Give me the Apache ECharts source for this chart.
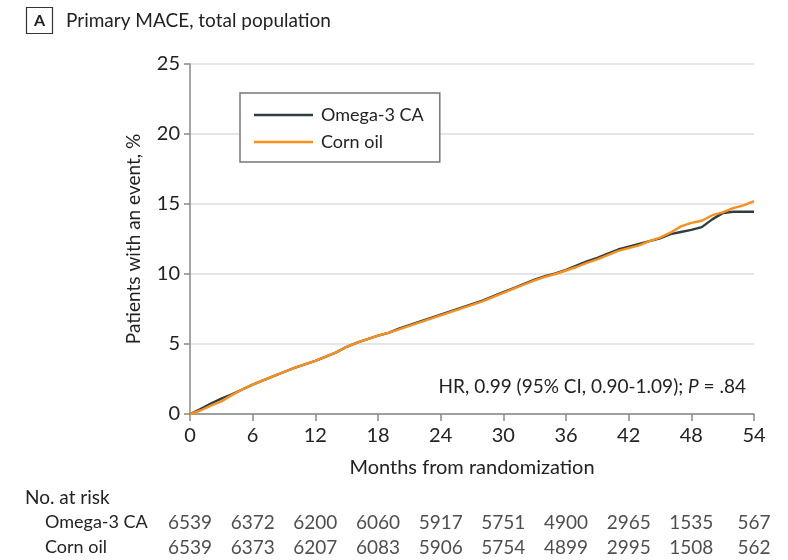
<!DOCTYPE html>
<html>
<head>
<meta charset="utf-8">
<script src="https://cdn.jsdelivr.net/npm/echarts@6/dist/echarts.min.js"></script>
<style>html,body{margin:0;padding:0;background:#fff}#c{width:788px;height:560px}</style>
</head>
<body>
<div id="c"></div>
<script>
var months = [0,1,2,3,4,5,6,7,8,9,10,11,12,13,14,15,16,17,18,19,20,21,22,23,24,25,26,27,28,29,30,31,32,33,34,35,36,37,38,39,40,41,42,43,44,45,46,47,48,49,50,51,52,53,54];
var omega3 = [0,0.35,0.75,1.1,1.4,1.75,2.1,2.4,2.7,3.0,3.3,3.55,3.8,4.1,4.4,4.8,5.1,5.35,5.6,5.8,6.1,6.35,6.6,6.85,7.1,7.35,7.6,7.85,8.1,8.4,8.7,9.0,9.3,9.6,9.85,10.05,10.3,10.6,10.9,11.15,11.45,11.75,11.95,12.15,12.35,12.55,12.85,13.0,13.15,13.35,13.9,14.35,14.45,14.45,14.45];
var cornOil = [0,0.25,0.6,0.9,1.35,1.75,2.1,2.4,2.7,3.0,3.3,3.55,3.8,4.1,4.4,4.8,5.1,5.35,5.6,5.8,6.05,6.3,6.55,6.8,7.05,7.3,7.55,7.8,8.05,8.35,8.65,8.95,9.25,9.55,9.8,10.0,10.25,10.5,10.8,11.05,11.35,11.65,11.85,12.05,12.35,12.6,12.95,13.4,13.65,13.8,14.2,14.4,14.7,14.9,15.2];
var riskMonths = [0,6,12,18,24,30,36,42,48,54];
var riskOmega3 = [6539,6372,6200,6060,5917,5751,4900,2965,1535,567];
var riskCornOil = [6539,6373,6207,6083,5906,5754,4899,2995,1508,562];
var groups = ['Omega-3 CA','Corn oil'];

var FONT = 'Lato';
function pairs(xs, ys){ return xs.map(function(x,i){ return [x, ys[i]]; }); }
function riskData(vals, g){ return riskMonths.map(function(m,i){ return [m, g, vals[i]]; }); }

var chart = echarts.init(document.getElementById('c'), null, {renderer:'canvas'});
chart.setOption({
  animation: false,
  backgroundColor: '#fff',
  textStyle: {fontFamily: FONT, color: '#222'},
  graphic: [
    {type:'rect', shape:{x:26.5,y:7.5,width:26,height:26}, style:{fill:'#fff', stroke:'#333', lineWidth:1.2}},
    {type:'text', x:39.5, y:21, style:{text:'A', font:'bold 16px '+FONT, fill:'#222', align:'center', verticalAlign:'middle'}},
    {type:'text', x:66, y:21, style:{text:'Primary MACE, total population', font:'19px '+FONT, fill:'#222', verticalAlign:'middle'}},
    {type:'text', x:25, y:498, style:{text:'No. at risk', font:'19px '+FONT, fill:'#222', verticalAlign:'middle'}},
    {type:'text', x:746, y:387, style:{
      text:'{n|HR, 0.99 (95% CI, 0.90-1.09); }{i|P}{n| = .84}',
      align:'right', verticalAlign:'middle',
      rich:{n:{font:'19px '+FONT, fill:'#222'}, i:{font:'italic 19px '+FONT, fill:'#222'}}
    }}
  ],
  legend: {
    data: groups.map(function(g){ return {name:g, icon:'rect'}; }),
    orient: 'vertical',
    left: 240, top: 93,
    padding: [12, 16, 10, 14],
    itemWidth: 59, itemHeight: 2.5, itemGap: 7,
    borderColor: '#777', borderWidth: 1.5,
    backgroundColor: '#fff',
    textStyle: {fontFamily: FONT, fontSize: 18, lineHeight: 20, color: '#222', padding:[0,0,0,3]},
    z: 10
  },
  grid: [
    {left:190, right:34, top:64, bottom:146},
    {left:190, right:34, top:510, height:50}
  ],
  xAxis: [
    {type:'value', gridIndex:0, min:0, max:54, interval:6,
     name:'Months from randomization', nameLocation:'middle', nameGap:44,
     nameTextStyle:{fontFamily:FONT, fontSize:20, color:'#222'},
     axisLine:{show:true, lineStyle:{color:'#888', width:1.5}},
     axisTick:{show:true, length:7, lineStyle:{color:'#888', width:1.5}},
     axisLabel:{fontFamily:FONT, fontSize:20, color:'#222', margin:12},
     splitLine:{show:false}},
    {type:'value', gridIndex:1, min:0, max:54, interval:6, show:false}
  ],
  yAxis: [
    {type:'value', gridIndex:0, min:0, max:25, interval:5,
     name:'Patients with an event, %', nameLocation:'middle', nameGap:47,
     nameTextStyle:{fontFamily:FONT, fontSize:19, color:'#222'},
     axisLine:{show:true, lineStyle:{color:'#888', width:1.5}},
     axisTick:{show:true, length:6, lineStyle:{color:'#888', width:1.5}},
     axisLabel:{fontFamily:FONT, fontSize:20, color:'#222', margin:10},
     splitLine:{show:true, lineStyle:{color:'#ddd', width:1.5}}},
    {type:'category', gridIndex:1, data:groups, inverse:true,
     axisLine:{show:false}, axisTick:{show:false}, splitLine:{show:false},
     axisLabel:{fontFamily:FONT, fontSize:18, color:'#222', align:'left', margin:145}}
  ],
  series: [
    {name:'Omega-3 CA', type:'line', xAxisIndex:0, yAxisIndex:0, data:pairs(months, omega3),
     symbol:'none', showSymbol:false, lineStyle:{color:'#2e3d42', width:2.4}, itemStyle:{color:'#2e3d42'}, z:3},
    {name:'Corn oil', type:'line', xAxisIndex:0, yAxisIndex:0, data:pairs(months, cornOil),
     symbol:'none', showSymbol:false, lineStyle:{color:'#f7901e', width:2.4}, itemStyle:{color:'#f7901e'}, z:4},
    {name:'riskO', type:'scatter', xAxisIndex:1, yAxisIndex:1, data:riskData(riskOmega3, groups[0]),
     symbolSize:1, itemStyle:{color:'rgba(0,0,0,0)'}, silent:true,
     label:{show:true, position:'inside', formatter:function(p){return p.value[2];}, fontFamily:FONT, fontSize:19, color:'#222'}},
    {name:'riskC', type:'scatter', xAxisIndex:1, yAxisIndex:1, data:riskData(riskCornOil, groups[1]),
     symbolSize:1, itemStyle:{color:'rgba(0,0,0,0)'}, silent:true,
     label:{show:true, position:'inside', formatter:function(p){return p.value[2];}, fontFamily:FONT, fontSize:19, color:'#222'}}
  ]
});
</script>
</body>
</html>
